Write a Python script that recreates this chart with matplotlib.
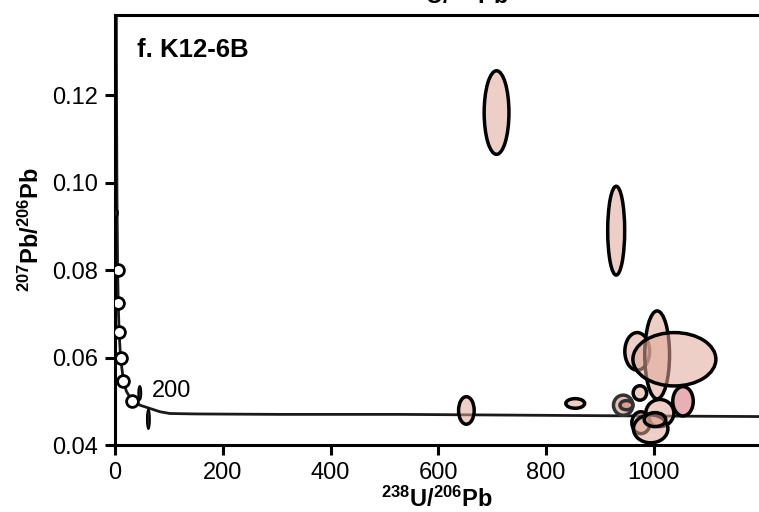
import matplotlib
matplotlib.use("Agg")
import matplotlib.pyplot as plt
from matplotlib.patches import Ellipse

plt.rcParams['font.family'] = ['Liberation Sans', 'DejaVu Sans']
plt.rcParams['mathtext.fontset'] = 'custom'
plt.rcParams['mathtext.rm'] = 'Liberation Sans'
plt.rcParams['mathtext.bf'] = 'Liberation Sans:bold'

# concordia curve
conc_x = [2.1, 2.75, 3.55, 4.9, 6.0, 7.6, 10.3, 15.6, 21.0, 31.7, 46.4, 58.8, 83.5, 102, 150, 306, 529, 900, 1197]
conc_y = [0.164, 0.123, 0.0987, 0.0801, 0.0725, 0.0658, 0.0600, 0.0547, 0.0523, 0.0501,
          0.0491, 0.0486, 0.0476, 0.0472, 0.0471, 0.0470, 0.0470, 0.0467, 0.0465]

# age markers on the concordia
age_x = [4.9, 6.0, 7.6, 10.3, 15.6, 31.7]
age_y = [0.0801, 0.0725, 0.0658, 0.0600, 0.0547, 0.0501]

# error ellipses: centre, full width (238U/206Pb), full height (207Pb/206Pb)
ell_x = [708, 930, 652, 854, 969, 1006, 1038, 974, 943, 949, 1054, 1011, 976, 994, 1002]
ell_y = [0.1160, 0.0890, 0.0479, 0.0495, 0.0614, 0.0606, 0.0596, 0.0519, 0.0491, 0.0491,
         0.0500, 0.0473, 0.0451, 0.0437, 0.0458]
ell_w = [46, 31.5, 29, 35, 46, 46, 154, 25, 36, 24, 38, 52, 34, 64, 40]
ell_h = [0.0191, 0.0203, 0.0063, 0.0022, 0.0086, 0.0201, 0.0122, 0.0033, 0.0046, 0.0021,
         0.0067, 0.0062, 0.0050, 0.0064, 0.0032]
ell_kind = ['n', 'n', 'n', 'n', 'n', 'n', 'n', 'n', 'g', 'g', 'p', 'n', 'n', 'n', 'n']

# small dark ellipses near the old end
dark_x = [46, 62, 2]
dark_y = [0.0519, 0.0459, 0.0930]
dark_w = [6, 6, 7]
dark_h = [0.0032, 0.0045, 0.0018]

fig = plt.figure(figsize=(7.59, 5.12), dpi=100)
ax = fig.add_axes([115 / 759, 67 / 512, 1 - 115 / 759, 430 / 512])

ax.plot(conc_x, conc_y, color='#1a1a1a', lw=2.0, zorder=2)
ax.plot(age_x, age_y, 'o', ms=8.5, mfc='white', mec='black', mew=2.0, zorder=3)
ax.text(69, 0.0509, '200', fontsize=17, va='baseline')

for x, y, w, h in zip(dark_x, dark_y, dark_w, dark_h):
    ax.add_patch(Ellipse((x, y), w, h, fc='#222222', ec='black', lw=1.2, zorder=4))

for x, y, w, h, k in zip(ell_x, ell_y, ell_w, ell_h, ell_kind):
    if k == 'p':
        fc, ec = (0.91, 0.69, 0.71, 1.0), 'black'
    elif k == 'g':
        fc, ec = (0.80, 0.50, 0.45, 0.5), '#333333'
    else:
        fc, ec = (0.88, 0.66, 0.60, 0.55), 'black'
    ax.add_patch(Ellipse((x, y), w, h, fc=fc, ec=ec, lw=2.5, zorder=4))

ax.set_xlim(0, 1195)
ax.set_ylim(0.04, 0.1383)
ax.set_xticks([0, 200, 400, 600, 800, 1000])
ax.set_yticks([0.04, 0.06, 0.08, 0.10, 0.12])
ax.set_yticklabels(['0.04', '0.06', '0.08', '0.10', '0.12'])
ax.tick_params(direction='out', length=7, width=2.2, labelsize=17, pad=5)

for s in ['left', 'bottom', 'top']:
    ax.spines[s].set_linewidth(2.2)
ax.spines['right'].set_visible(False)

ax.set_xlabel(r'$\mathbf{^{238}U/^{206}Pb}$', fontsize=17, labelpad=2)
ax.set_ylabel(r'$\mathbf{^{207}Pb/^{206}Pb}$', fontsize=17, labelpad=6)
ax.text(0.034, 0.902, 'f. K12-6B', transform=ax.transAxes, fontsize=18.5, fontweight='bold',
        va='baseline')

# label of the panel above, mostly cut off by the frame
fig.text(0.596, 0.993, r'$\mathbf{^{238}U/^{206}Pb}$', fontsize=17, ha='center', va='baseline')

fig.savefig('out.png', dpi=100)
